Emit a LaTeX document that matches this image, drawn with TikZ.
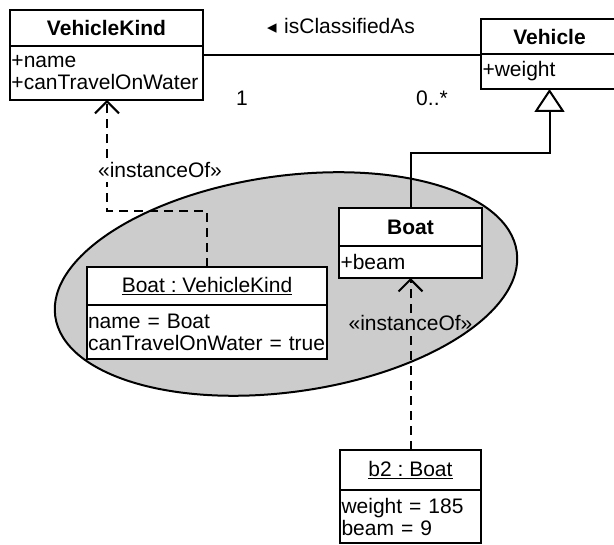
\documentclass[tikz,border=0pt]{standalone}
\usepackage{fontspec}
\setmainfont{Liberation Sans}
\newfontfamily\symfont{DejaVu Sans}
\usetikzlibrary{arrows.meta,shapes.geometric}
\definecolor{pkgfill}{gray}{0.80}
\frenchspacing
\begin{document}
\begin{tikzpicture}[x=1pt,y=-1pt,
  font=\fontsize{21}{22}\selectfont,
  border/.style={line width=2pt},
  ctitle/.style={draw, border, fill=white, inner sep=0pt, outer sep=0pt, font=\fontsize{21}{22}\selectfont\bfseries},
  otitle/.style={draw, border, fill=white, inner sep=0pt, outer sep=0pt},
  cattr/.style={draw, border, fill=white, anchor=north, align=left, inner xsep=1.5pt, inner ysep=0pt, outer sep=0pt},
  dep/.style={border, dash pattern=on 9pt off 6pt},
  barb/.style={-{Straight Barb[length=12pt,width=24pt,line width=2pt]}},
  gen/.style={border, -{Triangle[open,length=23pt,width=30pt,line width=2pt]}},
  lbl/.style={inner sep=2pt}]
\useasboundingbox (0,0) rectangle (614,545);

% package-like grouping of the type and its powertype instance
\node[ellipse, draw, border, fill=pkgfill, minimum width=466pt, minimum height=216pt, rotate=8] (pkg) at (286,284) {};

% classes
\node[ctitle, minimum width=193pt, minimum height=36pt] (vk) at (106.5,28) {VehicleKind};
\node[cattr, minimum height=54pt, text width=190pt] (vka) at (vk.south) {+name\\+canTravelOnWater};

\node[ctitle, minimum width=137pt, minimum height=35pt] (veh) at (549.5,36.5) {Vehicle};
\node[cattr, minimum height=35pt, text width=134pt] (veha) at (veh.south) {+weight};

\node[ctitle, minimum width=143pt, minimum height=38pt] (boat) at (410.5,227) {Boat};
\node[cattr, minimum height=32pt, text width=140pt] (boata) at (boat.south) {+beam};

% objects
\node[otitle, minimum width=240pt, minimum height=38pt] (bvk) at (207,286) {\underline{Boat : VehicleKind}};
\node[cattr, minimum height=54pt, inner xsep=1pt, text width=238pt] (bvka) at (bvk.south) {name = Boat\\canTravelOnWater = true};

\node[otitle, minimum width=141pt, minimum height=40pt] (b2) at (410.5,470) {\underline{b2 : Boat}};
\node[cattr, minimum height=53pt, text width=138pt] (b2a) at (b2.south) {weight = 185\\beam = 9};

% association
\draw[border] (vka.east |- 0,55) -- (veha.west |- 0,55);
\node[anchor=base] (dir) at (272,33.5) {\symfont\fontsize{19}{19}\selectfont ◂};
\node[anchor=base west, inner sep=0pt] (asname) at (284,33.5) {isClassifiedAs};
\node (m1) at (242,98) {1};
\node (m2) at (432,98) {0..*};

% generalization
\coordinate (gj) at (480,153);
\draw[gen] (boat.north) |- (gj) -| (veha.south);

% instanceOf: b2 -> Boat
\node[lbl] (io2) at (410.5,323) {«instanceOf»};
\draw[dep] (b2.north) -- (io2.south -| b2.north);
\draw[dep, barb] (io2.north -| b2.north) -- (boata.south);

% instanceOf: Boat : VehicleKind -> VehicleKind
\coordinate (d1) at (107,211);
\node[lbl, inner ysep=4pt] (io1) at (160,170) {«instanceOf»};
\draw[dep] (bvk.north) |- (d1) -- (d1 |- io1.south);
\draw[dep, barb] (d1 |- io1.north) -- (d1 |- vka.south);
\end{tikzpicture}
\end{document}
